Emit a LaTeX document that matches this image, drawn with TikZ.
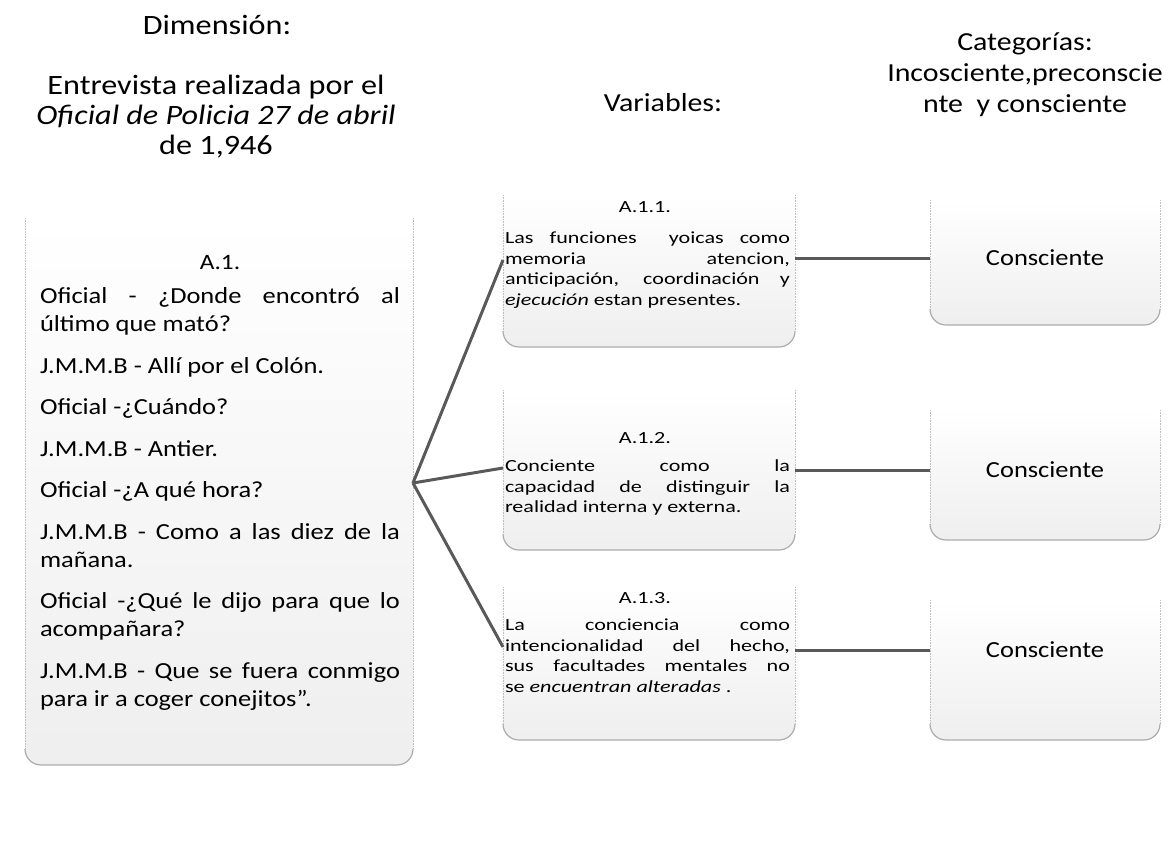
\documentclass[tikz,border=0pt]{standalone}
\usepackage{fontspec}
\setmainfont{Carlito}[FakeStretch=1.15]
\newfontfamily\varfont{Carlito}[FakeStretch=1.3]

\tikzset{
  box/.style={rectangle, draw=none, inner sep=0, outer sep=0},
  boxside/.style={draw=gray!50, densely dotted, line width=0.6pt},
  boxfoot/.style={draw=gray!65, line width=1.2pt, rounded corners=16pt},
  link/.style={draw=black!65, line width=3pt},
  title/.style={align=center, font=\fontsize{28}{30}\selectfont},
  lbl/.style={font=\varfont\fontsize{17}{20}\selectfont},
  vartxt/.style={anchor=north west, text width=285pt, align=justify, inner sep=0,
    font=\varfont\fontsize{17}{20.5}\selectfont},
  cattxt/.style={font=\fontsize{23}{26}\selectfont}
}

\begin{document}
\begin{tikzpicture}[x=1pt, y=-1pt, inner sep=0, outer sep=0]
  \useasboundingbox (0, 0) rectangle (1173, 855);

  \node[title] (dimtit) at (217, 25) {Dimensión:};
  \node[title] (dimtxt) at (216, 117) {Entrevista realizada por el\\ \textit{Oficial de Policia 27 de abril}\\ de 1,946};
  \node[title, font=\fontsize{26}{31}\selectfont] (vartit) at (663, 103) {Variables:};
  \node[title, font=\fontsize{26}{31}\selectfont] (cattit) at (1025, 75) {Categorías:\\ Incosciente,preconscie\\ nte\ \ y consciente};

  \node[box, minimum width=388pt, minimum height=547pt] (boxL) at (219, 491.5) {};
  \node[box, minimum width=292pt, minimum height=152pt] (boxM1) at (649, 271) {};
  \node[box, minimum width=292pt, minimum height=160pt] (boxM2) at (649, 470) {};
  \node[box, minimum width=292pt, minimum height=153pt] (boxM3) at (649, 663.5) {};
  \node[box, minimum width=230pt, minimum height=125pt] (boxR1) at (1045, 262.5) {};
  \node[box, minimum width=230pt, minimum height=130pt] (boxR2) at (1045, 475) {};
  \node[box, minimum width=230pt, minimum height=140pt] (boxR3) at (1045, 670) {};

  \foreach \bx in {boxL, boxM1, boxM2, boxM3, boxR1, boxR2, boxR3} {
    \shade[top color=white, middle color=white, bottom color=gray!13, rounded corners=16pt]
      (\bx.north west) rectangle (\bx.south east);
    \draw[boxside] (\bx.north west) -- ([yshift=16pt]\bx.south west);
    \draw[boxside] (\bx.north east) -- ([yshift=16pt]\bx.south east);
    \draw[boxfoot] ([yshift=16pt]\bx.south west) -- (\bx.south west) -- (\bx.south east) -- ([yshift=16pt]\bx.south east);
  }

  \node[font=\fontsize{22}{24}\selectfont] (a1) at (220, 262) {A.1.};
  \node[anchor=north west, text width=360pt, align=justify, inner sep=0,
    font=\fontsize{23}{28}\selectfont] (a1txt) at (40, 288) {%
    \setlength{\parskip}{13.5pt}\setlength{\parindent}{0pt}%
    Oficial - ¿Donde encontró al\linebreak último que mató?\par
    J.M.M.B - Allí por el Colón.\par
    Oficial -¿Cuándo?\par
    J.M.M.B - Antier.\par
    Oficial -¿A qué hora?\par
    J.M.M.B - Como a las diez de la\linebreak mañana.\par
    Oficial -¿Qué le dijo para que lo\linebreak acompañara?\par
    J.M.M.B - Que se fuera conmigo\linebreak para ir a coger conejitos”.};

  \node[lbl] (a11) at (645, 207) {A.1.1.};
  \node[vartxt] (a11txt) at (505, 232) {Las funciones\ \ yoicas como\linebreak memoria atencion,\linebreak anticipación, coordinación y\linebreak \textit{ejecución} estan presentes.};
  \node[lbl] (a12) at (645, 438) {A.1.2.};
  \node[vartxt] (a12txt) at (505, 460) {Conciente como la\linebreak capacidad de distinguir la\linebreak realidad interna y externa.};
  \node[lbl] (a13) at (645, 598) {A.1.3.};
  \node[vartxt] (a13txt) at (505, 619) {La conciencia como\linebreak intencionalidad del hecho,\linebreak sus facultades mentales no\linebreak se \textit{encuentran alteradas} .};

  \node[cattxt] (cat1) at (1045, 258) {Consciente};
  \node[cattxt] (cat2) at (1045, 470) {Consciente};
  \node[cattxt] (cat3) at (1045, 650) {Consciente};

  \draw[link] ([yshift=8.5pt]boxL.east) -- ([yshift=11pt]boxM1.west);
  \draw[link] ([yshift=8.5pt]boxL.east) -- ([yshift=2pt]boxM2.west);
  \draw[link] ([yshift=8.5pt]boxL.east) -- ([yshift=16.5pt]boxM3.west);

  \draw[link] ([yshift=13pt]boxM1.east) -- ([yshift=13pt]boxM1.east -| boxR1.west);
  \draw[link] (boxM2.east) -- (boxM2.east -| boxR2.west);
  \draw[link] ([yshift=13.5pt]boxM3.east) -- ([yshift=13.5pt]boxM3.east -| boxR3.west);
\end{tikzpicture}
\end{document}
